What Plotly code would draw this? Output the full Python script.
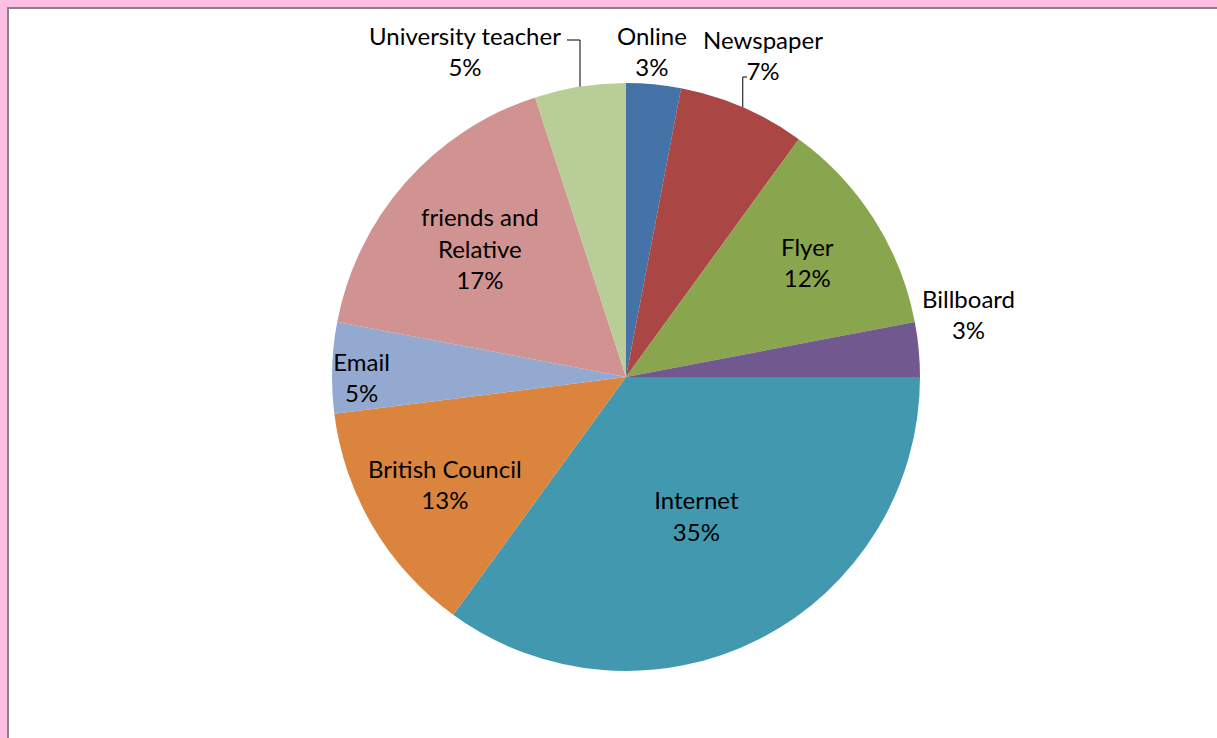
import math
import plotly.graph_objects as go

# Share of respondents by information source (clockwise from 12 o'clock)
sources = ["Online", "Newspaper", "Flyer", "Billboard", "Internet",
           "British Council", "Email", "friends and Relative", "University teacher"]
shares = [3, 7, 12, 3, 35, 13, 5, 17, 5]
colors = ["#4572A7", "#AA4643", "#89A54E", "#71588F", "#4198AF",
          "#DB843D", "#93A9CF", "#D19392", "#B9CD96"]

# labels drawn inside their slices; the rest are placed around the pie
inside = ["Flyer", "Internet", "British Council", "Email", "friends and Relative"]
# pixel anchor (centre of the text block) for the outer labels
outer_anchor = {
    "Online": (652, 51),
    "Newspaper": (763, 55),
    "Billboard": (968, 314),
    "University teacher": (465, 51),
}
# slices whose outer label gets an elbow leader line: (bend y, end x)
leaders = {"Newspaper": (77, 747), "University teacher": (40, 567)}

wrapped = {"friends and Relative": "friends and<br>Relative"}
display = [wrapped.get(s, s) for s in sources]
label_pos = ["inside" if s in inside else "none" for s in sources]

W, H = 1217, 738
cx, cy, r = 626, 377, 294
FONT = dict(family="Lato, Carlito, sans-serif", size=24, color="#000000")

fig = go.Figure(go.Pie(
    labels=sources,
    values=shares,
    customdata=display,
    texttemplate="%{customdata}<br>%{value}%",
    textposition=label_pos,
    insidetextorientation="horizontal",
    sort=False,
    direction="clockwise",
    rotation=0,
    marker=dict(colors=colors, line=dict(width=0)),
    textfont=FONT,
    showlegend=False,
    domain=dict(x=[(cx - r) / W, (cx + r) / W],
                y=[1 - (cy + r) / H, 1 - (cy - r) / H]),
))


def px(x, y):
    return x / W, 1 - y / H


annotations = []
shapes = []
total = sum(shares)
cum = 0
for name, val, txt in zip(sources, shares, display):
    mid = (cum + val / 2) / total * 2 * math.pi
    cum += val
    if name not in outer_anchor:
        continue
    ax, ay = px(*outer_anchor[name])
    annotations.append(dict(
        x=ax, y=ay, xref="paper", yref="paper", xanchor="center", yanchor="middle",
        text=f"{txt}<br>{val}%", showarrow=False, font=FONT,
    ))
    if name in leaders:
        # rim point at the slice's mid angle
        rx, ry = cx + r * math.sin(mid), cy - r * math.cos(mid)
        bend_y, end_x = leaders[name]
        pts = [px(rx, ry), px(rx, bend_y), px(end_x, bend_y)]
        path = "M {} {} L {} {} L {} {}".format(*[c for p in pts for c in p])
        shapes.append(dict(type="path", xref="paper", yref="paper", path=path,
                           line=dict(color="#000000", width=1)))

shapes += [
    # pink frame along the top and left edge
    dict(type="rect", xref="paper", yref="paper", x0=0, x1=1,
         y0=1 - 7 / H, y1=1, fillcolor="#FFBFE3", line=dict(width=0), layer="above"),
    dict(type="rect", xref="paper", yref="paper", x0=0, x1=7 / W,
         y0=0, y1=1, fillcolor="#FFBFE3", line=dict(width=0), layer="above"),
    # grey inner rule
    dict(type="line", xref="paper", yref="paper", x0=7 / W, x1=1,
         y0=1 - 8 / H, y1=1 - 8 / H, line=dict(color="#858585", width=2), layer="above"),
    dict(type="line", xref="paper", yref="paper", x0=8 / W, x1=8 / W,
         y0=0, y1=1 - 7 / H, line=dict(color="#858585", width=2), layer="above"),
]

fig.update_layout(
    width=W, height=H,
    margin=dict(l=0, r=0, t=0, b=0),
    paper_bgcolor="white",
    uniformtext=dict(minsize=24, mode="show"),
    annotations=annotations,
    shapes=shapes,
)

fig.write_html("out.html")
